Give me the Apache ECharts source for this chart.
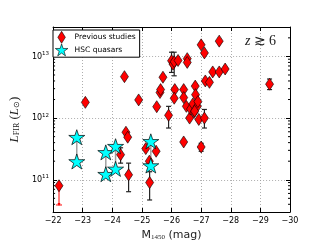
<!DOCTYPE html>
<html><head><meta charset="utf-8">
<script src="https://cdn.jsdelivr.net/npm/echarts@6/dist/echarts.min.js"></script>
<style>html,body{margin:0;padding:0;background:#fff}#c{width:334px;height:250px}</style>
</head><body><div id="c"></div>
<script>
// ---- data ----
const prevMag = [-23.09,-24.41,-24.46,-24.52,-24.28,-24.55,-24.89,-25.13,-25.25,-25.26,-25.48,-25.50,-25.61,-25.63,-25.71,-25.90,
  -26.00,-26.05,-26.09,-26.22,-26.11,-26.09,-26.41,-26.41,-26.41,-26.53,-26.53,-26.50,-26.61,-26.64,-26.72,-26.76,-26.80,-26.81,
  -26.87,-26.89,-26.78,-26.92,-27.00,-27.00,-27.11,-27.11,-27.14,-27.28,-27.39,-27.61,-27.81,-27.61,-29.31];
const prevL = [1.8e12,4.7e12,5.9e11,4.9e11,2.55e11,1.2e11,1.97e12,3.2e11,2.0e11,9.0e10,2.9e11,1.53e12,2.6e12,2.9e12,4.6e12,1.11e12,
  8.5e12,7.5e12,8.2e12,8.6e12,2.9e12,2.1e12,2.9e12,2.15e12,4.1e11,9.2e12,8.0e12,1.55e12,1.0e12,1.4e12,1.7e12,1.25e12,3.3e12,2.4e12,
  1.55e12,1.85e12,1.3e12,0.95e12,3.4e11,1.54e13,1.14e13,1.0e12,4.0e12,3.8e12,5.6e12,5.6e12,6.25e12,1.77e13,3.55e12];
const errMag = [-24.28,-24.55,-25.26,-25.90,-26.00,-26.09,-27.00,-27.11,-29.31];
const errLo  = [1.86e11,6.4e10,4.7e10,6.9e11,5.5e12,4.85e12,2.9e11,6.9e11,2.9e12];
const errHi  = [3.3e11,1.86e11,1.35e11,1.55e12,1.17e13,1.17e13,3.9e11,1.38e12,4.3e12];
const limMag = [-22.2];
const limL = [8.0e10];
const limTo = [3.9e10];
const hscMag = [-22.8,-22.8,-23.78,-23.78,-24.11,-24.11,-25.3,-25.3];
const hscL = [4.9e11,1.98e11,2.78e11,1.23e11,3.5e11,1.5e11,4.2e11,1.7e11];
const hscPairMag = [-22.8,-23.78,-24.11,-25.3];
const hscPairLo = [1.98e11,1.23e11,1.5e11,1.7e11];
const hscPairHi = [4.9e11,2.78e11,3.5e11,4.2e11];
const xMin = -30, xMax = -22;
const yMin = 3e10, yMax = 3e13;
const yMinorTicks = [4e10,5e10,6e10,7e10,8e10,9e10,2e11,3e11,4e11,5e11,6e11,7e11,8e11,9e11,
  2e12,3e12,4e12,5e12,6e12,7e12,8e12,9e12,2e13];
const seriesNames = ['Previous studies','HSC quasars'];

const STAR = 'path://M50 0 L61.23 34.55 L97.55 34.55 L68.17 55.9 L79.39 90.45 L50 69.1 L20.61 90.45 L31.83 55.9 L2.45 34.55 L38.77 34.55 Z';
const DIAMOND = 'path://M5 0 L10 8 L5 16 L0 8 Z';
const FONT = 'DejaVu Sans';

function zip(a,b,c){return a.map((v,i)=>c?[v,b[i],c[i]]:[v,b[i]]);}
function isPow(v){const l=Math.log10(v);return Math.abs(l-Math.round(l))<1e-6;}

const chart = echarts.init(document.getElementById('c'), null, {renderer:'canvas'});
chart.setOption({
  animation:false,
  backgroundColor:'#fff',
  grid:{left:50,right:44,top:27,bottom:38,show:false},
  xAxis:[{
    type:'value',min:xMin,max:xMax,interval:1,inverse:true,position:'bottom',
    axisLine:{show:true,onZero:false,lineStyle:{color:'#000',width:1}},
    axisTick:{show:true,inside:true,length:4,lineStyle:{color:'#000'}},
    axisLabel:{fontFamily:FONT,fontSize:8,color:'#000',margin:5,
      formatter:v=>(v<0?'\u2212':'')+Math.abs(v)},
    splitLine:{show:true,lineStyle:{color:'#999',type:[1,2],width:0.8}},
    name:'{m|M}{s|1450}{m| (mag)}',nameLocation:'middle',nameGap:13,
    nameTextStyle:{rich:{m:{fontFamily:FONT,fontSize:11,color:'#222'},
      s:{fontFamily:'Liberation Serif',fontSize:7,color:'#222',verticalAlign:'bottom',padding:[4,0,0,0]}}}
  },{
    type:'value',min:xMin,max:xMax,interval:1,inverse:true,position:'top',
    axisLine:{show:true,onZero:false,lineStyle:{color:'#000',width:1}},
    axisTick:{show:true,inside:true,length:4,lineStyle:{color:'#000'}},
    axisLabel:{show:false},splitLine:{show:false}
  }],
  yAxis:[{
    type:'log',logBase:10,min:yMin,max:yMax,position:'left',
    axisLine:{show:true,onZero:false,lineStyle:{color:'#000',width:1}},
    axisTick:{show:true,inside:true,length:4,lineStyle:{color:'#000'}},
    axisLabel:{margin:4,formatter:v=>isPow(v)?'{b|10}{s|'+Math.round(Math.log10(v))+'}':'',
      rich:{b:{fontFamily:FONT,fontSize:8,color:'#000'},s:{fontFamily:FONT,fontSize:5.5,color:'#000',verticalAlign:'top',padding:[0,0,6,0]}}},
    splitLine:{show:true,lineStyle:{color:'#999',type:[1,2],width:0.8}},
    name:'{i|L}{sub|FIR}{n| (}{i|L}{sub|\u2299}{n|)}',nameLocation:'middle',nameGap:25,
    nameTextStyle:{rich:{i:{fontFamily:'Liberation Serif',fontStyle:'italic',fontSize:13,color:'#222'},
      n:{fontFamily:'Liberation Serif',fontSize:13,color:'#222'},
      sub:{fontFamily:'Liberation Serif',fontSize:8,color:'#222',verticalAlign:'bottom',padding:[5,0,0,0]}}}
  },{
    type:'log',logBase:10,min:yMin,max:yMax,position:'right',
    axisLine:{show:true,onZero:false,lineStyle:{color:'#000',width:1}},
    axisTick:{show:true,inside:true,length:4,lineStyle:{color:'#000'}},
    axisLabel:{show:false},splitLine:{show:false}
  }],
  legend:{
    orient:'vertical',left:53,top:30,padding:[1,4,1,2],itemGap:0,itemWidth:16,itemHeight:12,
    symbolKeepAspect:true,
    itemStyle:{borderWidth:0.6},
    backgroundColor:'#fff',borderColor:'#000',borderWidth:1,borderRadius:0,
    textStyle:{fontFamily:FONT,fontSize:7.5,color:'#000'},
    data:[{name:seriesNames[0],icon:DIAMOND},{name:seriesNames[1],icon:STAR}]
  },
  graphic:[{
    type:'text',left:245,top:34,z:10,
    style:{text:'{i|z} {n|\u2273} {n|6}',rich:{i:{fontFamily:'Liberation Serif',fontStyle:'italic',fontSize:14,fill:'#222'},
      n:{fontFamily:'Liberation Serif',fontSize:14,fill:'#222'}}}
  }],
  series:[
    {type:'custom',name:'minor',silent:true,z:1,clip:false,
      data:yMinorTicks.map(v=>[v]),encode:{y:0},
      renderItem:(p,api)=>{const v=api.value(0);const a=api.coord([xMax,v]);const b=api.coord([xMin,v]);
        return {type:'group',children:[
          {type:'line',shape:{x1:a[0],y1:a[1],x2:a[0]+2,y2:a[1]},style:{stroke:'#000',lineWidth:1}},
          {type:'line',shape:{x1:b[0],y1:b[1],x2:b[0]-2,y2:b[1]},style:{stroke:'#000',lineWidth:1}}]};}},
    {type:'custom',name:'err',silent:true,z:2,
      data:zip(errMag,errLo,errHi),encode:{x:0,y:[1,2]},
      renderItem:(p,api)=>{const x=api.value(0);const a=api.coord([x,api.value(1)]);const b=api.coord([x,api.value(2)]);
        const st={stroke:'#222',lineWidth:1.2};
        return {type:'group',children:[
          {type:'line',shape:{x1:a[0],y1:a[1],x2:b[0],y2:b[1]},style:st},
          {type:'line',shape:{x1:a[0]-2.5,y1:a[1],x2:a[0]+2.5,y2:a[1]},style:st},
          {type:'line',shape:{x1:b[0]-2.5,y1:b[1],x2:b[0]+2.5,y2:b[1]},style:st}]};}},
    {type:'custom',name:'limit',silent:true,z:2,
      data:zip(limMag,limL,limTo),encode:{x:0,y:[1,2]},
      renderItem:(p,api)=>{const x=api.value(0);const a=api.coord([x,api.value(1)]);const b=api.coord([x,api.value(2)]);
        const st={stroke:'#ff0000',lineWidth:1};
        return {type:'group',children:[
          {type:'line',shape:{x1:a[0],y1:a[1],x2:b[0],y2:b[1]},style:st},
          {type:'line',shape:{x1:b[0]-3,y1:b[1],x2:b[0]+3,y2:b[1]},style:st},
          {type:'polygon',shape:{points:[[b[0]-1.5,b[1]-2],[b[0]+1.5,b[1]-2],[b[0],b[1]+1]]},style:{fill:'#ff0000'}}]};}},
    {type:'custom',name:'pairs',silent:true,z:3,
      data:zip(hscPairMag,hscPairLo,hscPairHi),encode:{x:0,y:[1,2]},
      renderItem:(p,api)=>{const x=api.value(0);const a=api.coord([x,api.value(1)]);const b=api.coord([x,api.value(2)]);
        return {type:'line',shape:{x1:a[0],y1:a[1],x2:b[0],y2:b[1]},style:{stroke:'#a0a0a0',lineWidth:1.5}};}},
    {type:'scatter',name:seriesNames[0],z:4,symbol:'diamond',symbolSize:[8,12],
      data:zip(prevMag,prevL).concat(zip(limMag,limL)),
      itemStyle:{color:'#ff0000',borderColor:'#000',borderWidth:0.6,opacity:1}},
    {type:'scatter',name:seriesNames[1],z:5,symbol:STAR,symbolSize:[16,15],
      data:zip(hscMag,hscL),
      itemStyle:{color:'#00ffff',borderColor:'#000',borderWidth:0.7,opacity:1}}
  ]
});
</script></body></html>
